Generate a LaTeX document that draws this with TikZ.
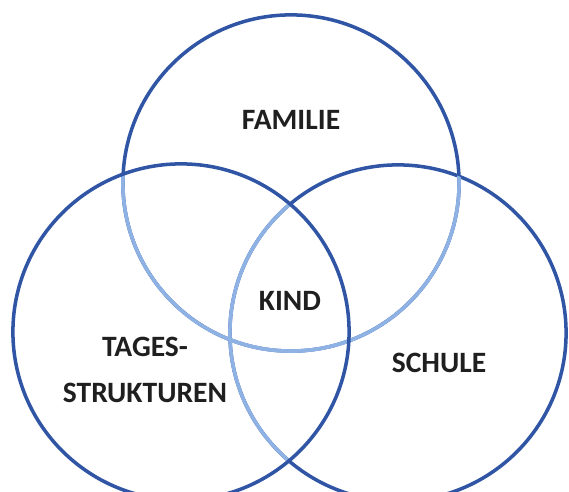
\documentclass[tikz,border=0pt]{standalone}
\usepackage{fontspec}
\setmainfont{Carlito}
\definecolor{dunkelblau}{HTML}{2F55A4}
\definecolor{hellblau}{HTML}{8FB2E4}
\newcommand{\kr}{1.68cm}
\begin{document}
\begin{tikzpicture}[x=0.01cm,y=0.01cm,
   kreis/.style={draw=dunkelblau,line width=1pt},
   innen/.style={draw=hellblau,line width=1pt},
   txt/.style={font=\fontsize{8.4}{13}\selectfont\bfseries,text=black!88,align=center}]
   \useasboundingbox (0,0) rectangle (569,492);
   % Mittelpunkte
   \coordinate (fam) at (291,309);
   \coordinate (tag) at (181,160);
   \coordinate (sch) at (398,159);

   % Kreise
   \draw[kreis] (fam) circle (\kr);
   \draw[kreis] (sch) circle (\kr);
   \begin{scope}
      \clip (sch) circle (\kr);
      \draw[innen] (fam) circle (\kr);
   \end{scope}
   \begin{scope}
      \clip (tag) circle (\kr);
      \draw[innen] (fam) circle (\kr);
      \draw[innen] (sch) circle (\kr);
   \end{scope}
   \draw[kreis] (tag) circle (\kr);

   % Beschriftung
   \node[txt] (familie) at (291,372) {FAMILIE};
   \node[txt] (kind) at (290,191) {KIND};
   \node[txt] (tages) at (145,122) {TAGES-\\STRUKTUREN};
   \node[txt] (schule) at (439,129) {SCHULE};
\end{tikzpicture}
\end{document}
